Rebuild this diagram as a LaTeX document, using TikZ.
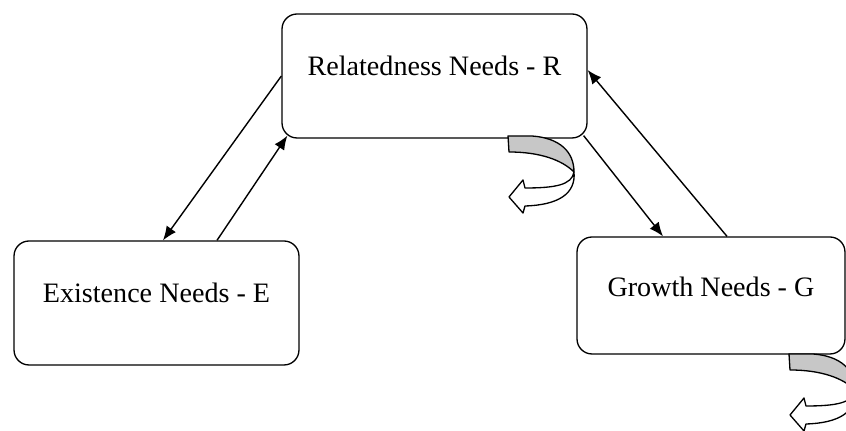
\documentclass[tikz,border=0pt]{standalone}
\usepackage{fontspec}
\setmainfont{Liberation Serif}
\usetikzlibrary{arrows.meta,calc}
\tikzset{
  needbox/.style={draw, rounded corners=0.3cm, line width=0.75pt,
    minimum width=6.1cm, minimum height=2.48cm, text depth=12pt,
    font=\fontsize{16}{19}\selectfont},
  link/.style={line width=0.8pt, -{Latex[length=8pt,width=6.5pt]}},
  uturn/.style={draw, line width=0.75pt, line join=round},
}
\begin{document}
\begin{tikzpicture}[x=0.02cm, y=-0.02cm]
    \useasboundingbox (0,0) rectangle (846,431);
    \clip (0,0) rectangle (846,431);
    \node[needbox] (R) at (434.5,76) {Relatedness Needs - R};
    \node[needbox, minimum width=5.7cm] (E) at (156.5,303) {Existence Needs - E};
    \node[needbox, minimum width=5.36cm, minimum height=2.34cm, text depth=10pt] (G) at (711,295.5) {Growth Needs - G};
    % links between the needs
    \draw[link] (R.west) -- ($(E.north)+(6.5,0)$);
    \draw[link] ($(E.north)+(60.5,0)$) -- ($(R.south west)+(6,-3)$);
    \draw[link] ($(R.south east)+(-4,-3)$) -- ($(G.north)+(-48,0)$);
    \draw[link] ($(G.north)+(16,0)$) -- ($(R.east)+(0,-6)$);
    % u-turn arrows under R and G
    \foreach \dx/\dy in {0/0, 281/218}{
        \begin{scope}[shift={(\dx,\dy)}]
            \path[uturn, fill=white] (574,172) .. controls (572,185) and (555,188) .. (525,188)
                -- (523,180) -- (509,197) -- (523,213) -- (525,206)
                .. controls (558,205) and (576,194) .. (574,172) -- cycle;
            \path[uturn, fill=black!22] (508,136) -- (532,136)
                .. controls (560,138) and (574,152) .. (574,172)
                .. controls (562,160) and (540,152) .. (509,152) -- cycle;
        \end{scope}
    }
\end{tikzpicture}
\end{document}
